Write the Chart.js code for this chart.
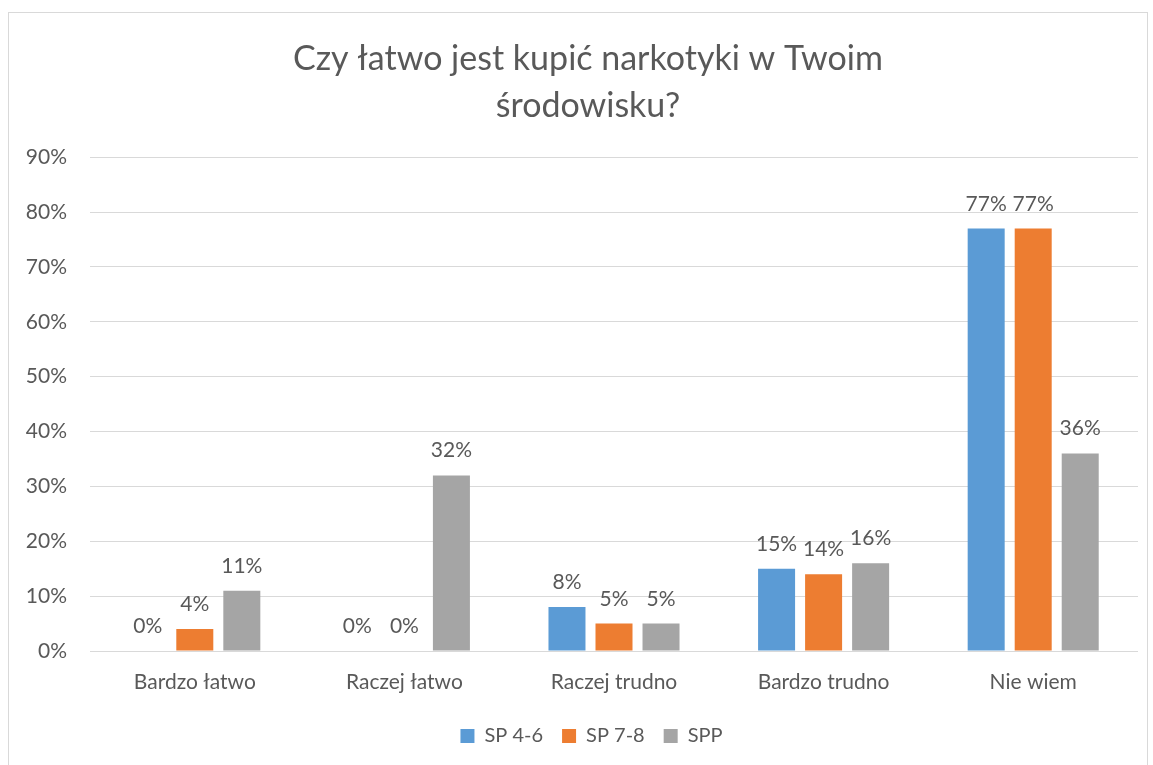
<!DOCTYPE html>
<html>
<head>
<meta charset="utf-8">
<script src="https://cdn.jsdelivr.net/npm/chart.js@4/dist/chart.umd.min.js"></script>
<style>
html,body{margin:0;padding:0;background:#fff;}
#frame{position:absolute;left:8px;top:12px;width:1140px;height:770px;border:1px solid #d9d9d9;box-sizing:border-box;}
#wrap{position:absolute;left:0;top:0;width:1153px;height:765px;}
</style>
</head>
<body>
<div id="frame"></div>
<div id="wrap"><canvas id="c" width="1153" height="765"></canvas></div>
<script>
const categories = ["Bardzo łatwo", "Raczej łatwo", "Raczej trudno", "Bardzo trudno", "Nie wiem"];
const seriesNames = ["SP 4-6", "SP 7-8", "SPP"];
const sp46 = [0, 0, 8, 15, 77];
const sp78 = [4, 0, 5, 14, 77];
const spp = [11, 32, 5, 16, 36];
const seriesColors = ["#5B9BD5", "#ED7D31", "#A5A5A5"];
const titleLines = ["Czy łatwo jest kupić narkotyki w Twoim", "środowisku?"];
const FONT = "Lato, 'Open Sans', sans-serif";
const TXT = "#595959";

const valueLabels = {
  id: 'valueLabels',
  afterDatasetsDraw(chart) {
    const ctx = chart.ctx;
    ctx.save();
    ctx.font = "21px " + FONT;
    ctx.fillStyle = TXT;
    ctx.textAlign = "center";
    ctx.textBaseline = "alphabetic";
    chart.data.datasets.forEach((ds, i) => {
      const meta = chart.getDatasetMeta(i);
      meta.data.forEach((el, j) => {
        ctx.fillText(ds.data[j] + "%", el.x, el.y - 18);
      });
    });
    ctx.restore();
  }
};

const boxShift = {
  id: 'boxShift',
  afterLayout(chart) {
    if (chart.titleBlock) chart.titleBlock.left += 28;
    if (chart.legend) chart.legend.left += 35;
  }
};

new Chart(document.getElementById('c'), {
  type: 'bar',
  data: {
    labels: categories,
    datasets: [
      { label: seriesNames[0], data: sp46, backgroundColor: seriesColors[0] },
      { label: seriesNames[1], data: sp78, backgroundColor: seriesColors[1] },
      { label: seriesNames[2], data: spp, backgroundColor: seriesColors[2] }
    ]
  },
  options: {
    responsive: false,
    animation: false,
    datasets: { bar: { categoryPercentage: 0.673, barPercentage: 0.787 } },
    layout: { padding: { left: 10, right: 15, top: 14, bottom: 9 } },
    plugins: {
      title: {
        display: true,
        text: titleLines,
        color: TXT,
        font: { family: FONT, size: 34, weight: 'normal', lineHeight: 1.4 },
        padding: { top: 21, bottom: 27 }
      },
      legend: {
        position: 'bottom',
        labels: {
          color: TXT,
          font: { family: FONT, size: 20 },
          boxWidth: 14,
          boxHeight: 14,
          padding: 19
        }
      },
      tooltip: { enabled: false }
    },
    scales: {
      x: {
        grid: { display: false, drawTicks: false },
        border: { display: false },
        ticks: { color: TXT, font: { family: FONT, size: 21 }, padding: 19 },
        afterFit: s => { s.height = 56; }
      },
      y: {
        min: 0,
        max: 90,
        ticks: { stepSize: 10, color: TXT, font: { family: FONT, size: 21 }, padding: 23, callback: v => v + "%" },
        grid: { color: "#d9d9d9", lineWidth: 1, drawTicks: false },
        border: { display: false },
        afterFit: s => { s.width = 80; }
      }
    }
  },
  plugins: [valueLabels, boxShift]
});
</script>
</body>
</html>
